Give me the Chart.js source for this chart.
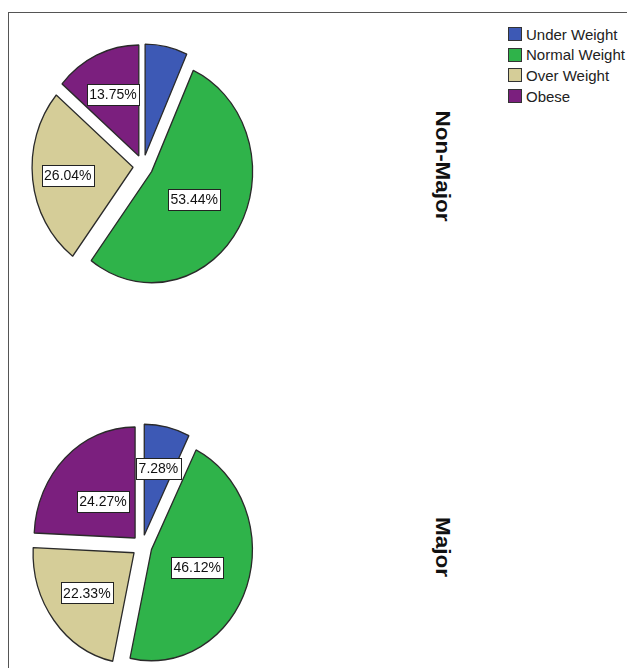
<!DOCTYPE html>
<html><head><meta charset="utf-8">
<script src="https://cdn.jsdelivr.net/npm/chart.js@4.4.0/dist/chart.umd.min.js"></script>
<style>
html,body{margin:0;padding:0;background:#fff;width:627px;height:668px;overflow:hidden;position:relative;font-family:"Liberation Sans",Arial,sans-serif;}
#frame{position:absolute;left:8px;top:12px;width:700px;height:700px;border-left:1px solid #555;border-top:1px solid #555;}
.pie{position:absolute;width:280px;height:280px;}
#legend{position:absolute;left:508px;top:24px;font-size:15px;color:#222;}
.row{display:flex;align-items:center;height:20.6px;}
.sw{width:14px;height:14px;border:1px solid #333;margin-right:4px;box-sizing:border-box;}
.side{position:absolute;font-weight:bold;font-size:21px;color:#111;white-space:nowrap;transform:translate(-50%,-50%) rotate(90deg) scaleX(1.07);}
</style>
</head>
<body>
<div id="frame"></div>
<canvas id="pieTop" class="pie" width="280" height="280" style="left:3px;top:26px;"></canvas>
<canvas id="pieBottom" class="pie" width="280" height="280" style="left:2px;top:406px;"></canvas>
<div id="legend"></div>
<div class="side" id="sideTop" style="left:443px;top:166px;"></div>
<div class="side" id="sideBottom" style="left:443px;top:547px;"></div>
<script>
// ---- data ----
const categories = ['Under Weight', 'Normal Weight', 'Over Weight', 'Obese'];
const groups = ['Non-Major', 'Major'];
const nonMajorValues = [6.77, 53.44, 26.04, 13.75];
const majorValues = [7.28, 46.12, 22.33, 24.27];
const nonMajorShowLabel = [false, true, true, true];
const majorShowLabel = [true, true, true, true];

// ---- style ----
const colors = ['#3d59b5', '#2fb34a', '#d5cd98', '#7b1f7e'];
const STRETCH = 1.1;
const RADIUS = 101;
const OFFSET_PX = 10;          // explode distance in pixels
const nonMajorLabelFrac = [0.6, 0.49, 0.65, 0.61];
const majorLabelFrac = [0.62, 0.48, 0.59, 0.46];

// legend + side titles
const legendEl = document.getElementById('legend');
categories.forEach((c, i) => {
  const r = document.createElement('div'); r.className = 'row';
  const s = document.createElement('div'); s.className = 'sw'; s.style.background = colors[i];
  const t = document.createElement('span'); t.textContent = c;
  r.appendChild(s); r.appendChild(t); legendEl.appendChild(r);
});
document.getElementById('sideTop').textContent = groups[0];
document.getElementById('sideBottom').textContent = groups[1];

// explode every slice by the same distance without changing its radius
const explodePlugin = {
  id: 'explode',
  afterUpdate(chart) {
    chart.getDatasetMeta(0).data.forEach(arc => {
      if (arc._exploded) return;
      const orig = arc.draw;
      arc.draw = function (ctx, area) {
        const h = (this.startAngle + this.endAngle) / 2;
        ctx.save();
        ctx.translate(Math.cos(h) * OFFSET_PX, Math.sin(h) * OFFSET_PX);
        orig.call(this, ctx, area);
        ctx.restore();
      };
      arc._exploded = true;
    });
  }
};

const stretchPlugin = {
  id: 'stretch',
  beforeDatasetsDraw(chart) {
    const ctx = chart.ctx, a = chart.chartArea;
    const cx = (a.left + a.right) / 2, cy = (a.top + a.bottom) / 2;
    ctx.save();
    ctx.translate(cx, cy); ctx.scale(1, STRETCH); ctx.translate(-cx, -cy);
  },
  afterDatasetsDraw(chart) { chart.ctx.restore(); }
};

const labelPlugin = {
  id: 'pctLabels',
  afterDraw(chart) {
    const ctx = chart.ctx;
    const meta = chart.getDatasetMeta(0);
    const ds = chart.data.datasets[0];
    const show = chart.options.plugins.pctLabels.show;
    const frac = chart.options.plugins.pctLabels.frac;
    ctx.save();
    ctx.font = '14px "Liberation Sans", Arial, sans-serif';
    ctx.textAlign = 'center'; ctx.textBaseline = 'middle';
    meta.data.forEach((arc, i) => {
      if (!show[i]) return;
      const p = arc.getProps(['x', 'y', 'startAngle', 'endAngle', 'outerRadius'], true);
      const mid = (p.startAngle + p.endAngle) / 2;
      const d = OFFSET_PX + frac[i] * p.outerRadius;
      const x = p.x + Math.cos(mid) * d;
      const y = p.y + Math.sin(mid) * d * STRETCH;
      const txt = ds.data[i].toFixed(2) + '%';
      const w = ctx.measureText(txt).width + 5, h = 21;
      ctx.fillStyle = '#fff';
      ctx.fillRect(Math.round(x - w / 2) + 0.5, Math.round(y - h / 2) + 0.5, Math.round(w), h);
      ctx.strokeStyle = '#222'; ctx.lineWidth = 1;
      ctx.strokeRect(Math.round(x - w / 2) + 0.5, Math.round(y - h / 2) + 0.5, Math.round(w), h);
      ctx.fillStyle = '#111';
      ctx.fillText(txt, x, y + 1);
    });
    ctx.restore();
  }
};

function makePie(id, values, show, frac) {
  return new Chart(document.getElementById(id), {
    type: 'pie',
    data: {
      labels: categories,
      datasets: [{
        data: values,
        backgroundColor: colors,
        borderColor: '#2a2a2a',
        borderWidth: 1.3,
        offset: 0
      }]
    },
    options: {
      responsive: false,
      devicePixelRatio: 1,
      animation: false,
      radius: RADIUS,
      layout: { padding: 0 },
      plugins: {
        legend: { display: false },
        tooltip: { enabled: false },
        pctLabels: { show: show, frac: frac }
      }
    },
    plugins: [explodePlugin, stretchPlugin, labelPlugin]
  });
}

makePie('pieTop', nonMajorValues, nonMajorShowLabel, nonMajorLabelFrac);
makePie('pieBottom', majorValues, majorShowLabel, majorLabelFrac);
</script>
</body></html>
